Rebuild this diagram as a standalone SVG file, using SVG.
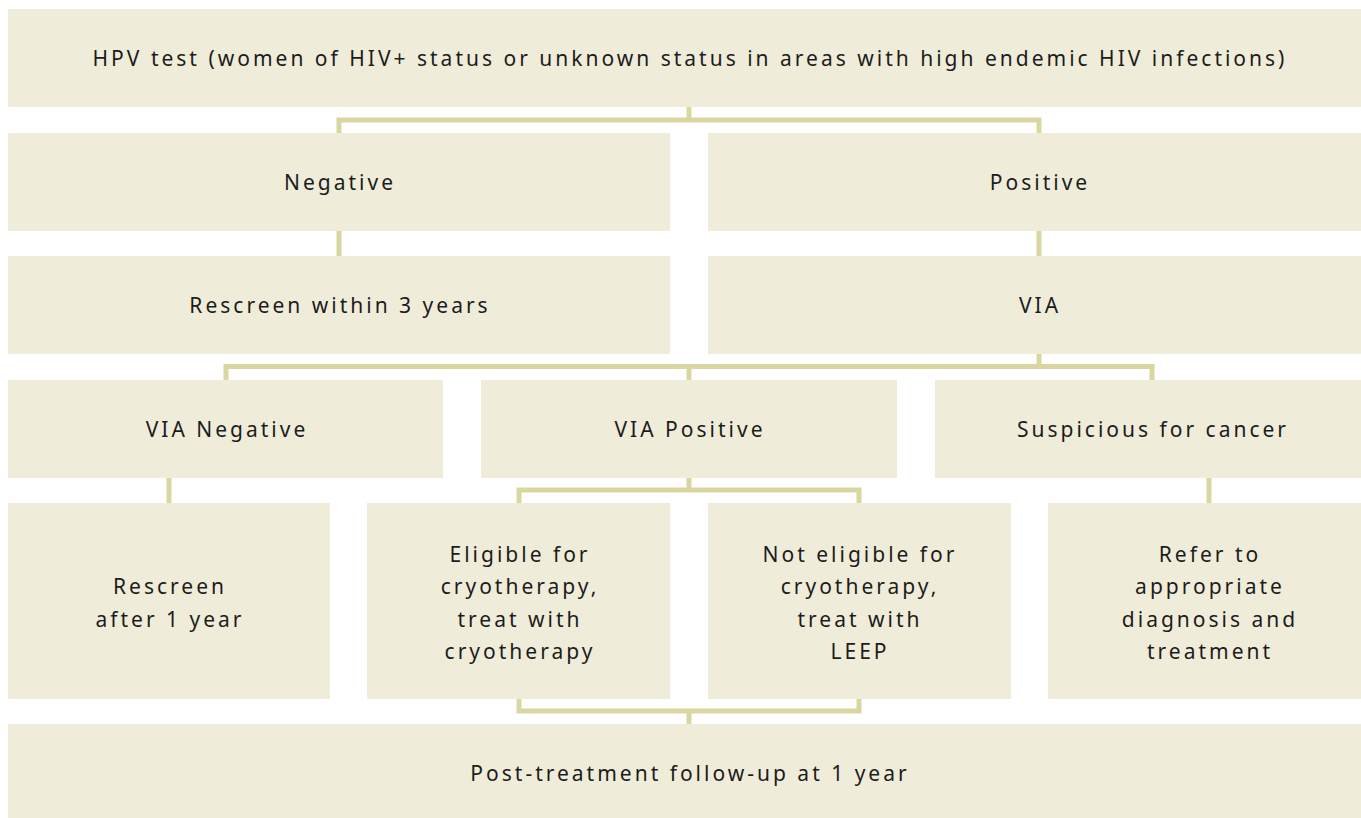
<svg xmlns="http://www.w3.org/2000/svg" width="1361" height="818" viewBox="0 0 1361 818">
<style>
.box{fill:#efedda}
.t{font-family:"Noto Sans","Liberation Sans",sans-serif;font-size:21px;letter-spacing:3px;fill:#1c1c1c;text-anchor:middle}
.c{fill:none;stroke:#d9d6a0;stroke-width:5;stroke-linejoin:miter;stroke-linecap:butt}
</style>
<rect width="1361" height="818" fill="#ffffff"/>
<g id="connectors">
<path class="c" d="M689 107V120M339 133V120H1039V133"/>
<path class="c" d="M339 231V256M1039 231V256"/>
<path class="c" d="M1039 354V366.5M226 380V366.5H1152V380M689 366.5V380"/>
<path class="c" d="M169 478V503M1209 478V503"/>
<path class="c" d="M689 478V490M519 503V490H859V503"/>
<path class="c" d="M519 699V711H859V699M689 711V724"/>
</g>
<g id="n1"><rect class="box" x="8" y="9" width="1362" height="98"/><text class="t" x="690" y="65.5">HPV test (women of HIV+ status or unknown status in areas with high endemic HIV infections)</text></g>
<g id="n2"><rect class="box" x="8" y="133" width="662" height="98"/><text class="t" x="340" y="189.5">Negative</text></g>
<g id="n3"><rect class="box" x="708" y="133" width="662" height="98"/><text class="t" x="1040" y="189.5">Positive</text></g>
<g id="n4"><rect class="box" x="8" y="256" width="662" height="98"/><text class="t" x="340" y="312.5">Rescreen within 3 years</text></g>
<g id="n5"><rect class="box" x="708" y="256" width="662" height="98"/><text class="t" x="1040" y="312.5">VIA</text></g>
<g id="n6"><rect class="box" x="8" y="380" width="435" height="98"/><text class="t" x="227" y="436.5">VIA Negative</text></g>
<g id="n7"><rect class="box" x="481" y="380" width="416" height="98"/><text class="t" x="690" y="436.5">VIA Positive</text></g>
<g id="n8"><rect class="box" x="935" y="380" width="435" height="98"/><text class="t" x="1153" y="436.5">Suspicious for cancer</text></g>
<g id="n9"><rect class="box" x="8" y="503" width="322" height="196"/><text class="t" x="170" y="594">Rescreen</text><text class="t" x="170" y="626.5">after 1 year</text></g>
<g id="n10"><rect class="box" x="367" y="503" width="303" height="196"/><text class="t" x="520" y="561.5">Eligible for</text><text class="t" x="520" y="594">cryotherapy,</text><text class="t" x="520" y="626.5">treat with</text><text class="t" x="520" y="659">cryotherapy</text></g>
<g id="n11"><rect class="box" x="708" y="503" width="303" height="196"/><text class="t" x="860" y="561.5">Not eligible for</text><text class="t" x="860" y="594">cryotherapy,</text><text class="t" x="860" y="626.5">treat with</text><text class="t" x="860" y="659">LEEP</text></g>
<g id="n12"><rect class="box" x="1048" y="503" width="322" height="196"/><text class="t" x="1210" y="561.5">Refer to</text><text class="t" x="1210" y="594">appropriate</text><text class="t" x="1210" y="626.5">diagnosis and</text><text class="t" x="1210" y="659">treatment</text></g>
<g id="n13"><rect class="box" x="8" y="724" width="1362" height="94"/><text class="t" x="690" y="780.5">Post-treatment follow-up at 1 year</text></g>
</svg>
